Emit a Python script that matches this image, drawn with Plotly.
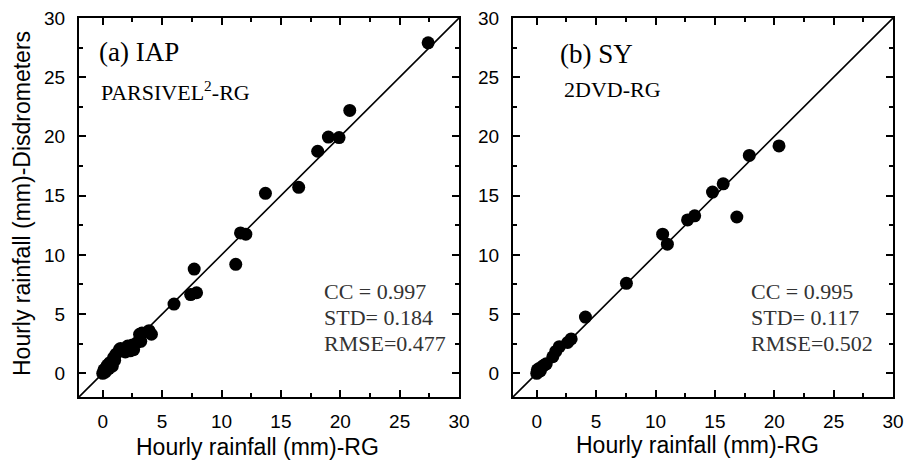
import plotly.graph_objects as go

# ---------------- data ----------------
iap_rg = [0.0, 0.1, 0.2, 0.3, 0.4, 0.5, 0.6, 0.8, 0.9, 1.0, 1.1, 1.4, 1.5, 1.9, 2.1, 2.3,
          2.5, 2.6, 2.9, 3.1, 3.2, 3.3, 3.9, 4.1, 6.0, 7.4, 7.7, 7.9, 11.2, 11.6, 12.05,
          13.7, 16.5, 18.1, 19.0, 19.9, 20.8, 27.4]
iap_dis = [0.0, 0.3, 0.1, 0.5, 0.7, 0.4, 0.9, 0.6, 1.3, 1.1, 1.6, 2.0, 2.1, 1.8, 2.3, 1.9,
           2.4, 2.0, 2.6, 3.3, 2.7, 3.4, 3.6, 3.3, 5.85, 6.65, 8.8, 6.8, 9.2, 11.85, 11.75,
           15.2, 15.7, 18.75, 19.95, 19.9, 22.2, 27.9]

sy_rg = [0.0, 0.05, 0.2, 0.3, 0.5, 0.65, 0.8, 1.35, 1.6, 1.9, 2.6, 2.9, 4.1, 7.55,
         10.6, 11.0, 12.7, 13.3, 14.8, 15.7, 16.85, 17.9, 20.4]
sy_dis = [0.0, 0.3, 0.4, 0.2, 0.6, 0.7, 0.8, 1.4, 1.85, 2.25, 2.6, 2.9, 4.75, 7.6,
          11.75, 10.9, 12.95, 13.3, 15.3, 16.0, 13.2, 18.4, 19.2]

one_to_one = [-2, 30]

stats_a = ["CC = 0.997", "STD= 0.184", "RMSE=0.477"]
stats_b = ["CC = 0.995", "STD= 0.117", "RMSE=0.502"]

tick_vals = [0, 5, 10, 15, 20, 25, 30]
tick_text = ["0", "5", "10", "15", "20", "25", "30"]

# ---------------- figure ----------------
W, H = 905, 467
ML, MR, MT, MB = 79, 12, 18, 70
PW, PH = W - ML - MR, H - MT - MB


def px(x):
    return (x - ML) / PW


def py(y):
    return (H - MB - y) / PH


fig = go.Figure()

marker = dict(color="black", size=13, line=dict(width=0))
for xs, ys, xa, ya in [(iap_rg, iap_dis, "x", "y"), (sy_rg, sy_dis, "x2", "y2")]:
    fig.add_trace(go.Scatter(x=one_to_one, y=one_to_one, mode="lines",
                             line=dict(color="black", width=1.6),
                             xaxis=xa, yaxis=ya, showlegend=False, hoverinfo="skip"))
    fig.add_trace(go.Scatter(x=xs, y=ys, mode="markers", marker=marker,
                             xaxis=xa, yaxis=ya, showlegend=False))

axis_common = dict(
    range=[-2, 30], tickvals=tick_vals, ticktext=tick_text,
    showline=True, linecolor="black", linewidth=2, mirror="ticks",
    ticks="inside", ticklen=7, tickwidth=1.5, tickcolor="black",
    minor=dict(dtick=2.5, tick0=0, ticks="inside", ticklen=4, tickwidth=1.5, tickcolor="black"),
    showgrid=False, zeroline=False, automargin=False,
    tickfont=dict(family="Liberation Sans, Arial", size=19, color="black"),
)

fig.update_layout(
    template="none",
    width=W, height=H,
    margin=dict(l=ML, r=MR, t=MT, b=MB),
    paper_bgcolor="white", plot_bgcolor="white",
    xaxis=dict(domain=[0, px(459)], anchor="y", ticklabelstandoff=6, **axis_common),
    yaxis=dict(domain=[0, 1], anchor="x", ticklabelstandoff=8, **axis_common),
    xaxis2=dict(domain=[px(513), 1], anchor="y2", ticklabelstandoff=6, **axis_common),
    yaxis2=dict(domain=[0, 1], anchor="x2", ticklabelstandoff=8, **axis_common),
)

title_font = dict(family="Liberation Sans, Arial", size=23, color="black")
serif = "Liberation Serif, Times New Roman"

annotations = [
    dict(x=px(257), y=py(447), xref="paper", yref="paper", text="Hourly rainfall (mm)-RG",
         showarrow=False, font=title_font, xanchor="center", yanchor="middle"),
    dict(x=px(697), y=py(445), xref="paper", yref="paper", text="Hourly rainfall (mm)-RG",
         showarrow=False, font=title_font, xanchor="center", yanchor="middle"),
    dict(x=px(22), y=py(204), xref="paper", yref="paper", text="Hourly rainfall (mm)-Disdrometers",
         showarrow=False, font=title_font, textangle=-90, xanchor="center", yanchor="middle"),
    dict(x=-0.48, y=27.1, xref="x", yref="y", text="(a) IAP", showarrow=False,
         font=dict(family=serif, size=27, color="black"), xanchor="left", yanchor="middle"),
    dict(x=-0.3, y=23.8, xref="x", yref="y", text="PARSIVEL<sup>2</sup>-RG", showarrow=False,
         font=dict(family=serif, size=22, color="black"), xanchor="left", yanchor="middle"),
    dict(x=1.75, y=27.0, xref="x2", yref="y2", text="(b) SY", showarrow=False,
         font=dict(family=serif, size=27, color="black"), xanchor="left", yanchor="middle"),
    dict(x=2.1, y=23.95, xref="x2", yref="y2", text="2DVD-RG", showarrow=False,
         font=dict(family=serif, size=22, color="black"), xanchor="left", yanchor="middle"),
]

stat_y = [6.9, 4.75, 2.55]
for lines, xa, ya, x0 in [(stats_a, "x", "y", 18.45), (stats_b, "x2", "y2", 17.9)]:
    for t, yv in zip(lines, stat_y):
        annotations.append(dict(x=x0, y=yv, xref=xa, yref=ya, text=t.replace(" ", "\u00a0"),
                                showarrow=False, xanchor="left", yanchor="middle",
                                font=dict(family=serif, size=22, color="#333333")))

fig.update_layout(annotations=annotations)

fig.write_html("out.html", config={"displayModeBar": False},
               post_script="document.body.style.margin='0';")
